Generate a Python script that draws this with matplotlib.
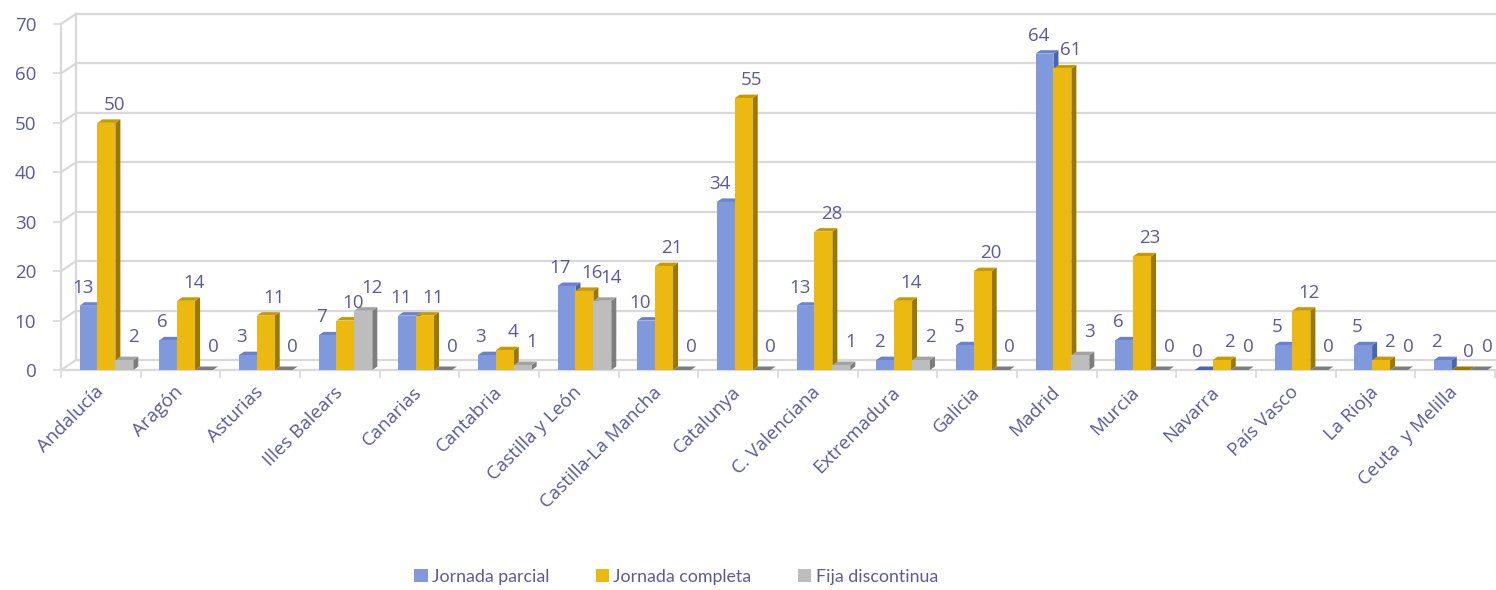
import matplotlib
matplotlib.use('Agg')
import matplotlib.pyplot as plt
from matplotlib.patches import Polygon, Patch
from matplotlib.font_manager import FontProperties
import numpy as np

categories = ['Andalucía', 'Aragón', 'Asturias', 'Illes Balears', 'Canarias', 'Cantabria',
              'Castilla y León', 'Castilla-La Mancha', 'Catalunya', 'C. Valenciana',
              'Extremadura', 'Galicia', 'Madrid', 'Murcia', 'Navarra', 'País Vasco',
              'La Rioja', 'Ceuta  y Melilla']
jornada_parcial = [13, 6, 3, 7, 11, 3, 17, 10, 34, 13, 2, 5, 64, 6, 0, 5, 5, 2]
jornada_completa = [50, 14, 11, 10, 11, 4, 16, 21, 55, 28, 14, 20, 61, 23, 2, 12, 2, 0]
fija_discontinua = [2, 0, 0, 12, 0, 1, 14, 0, 0, 1, 2, 0, 3, 0, 0, 0, 0, 0]
series_names = ['Jornada parcial', 'Jornada completa', 'Fija discontinua']
y_ticks = [0, 10, 20, 30, 40, 50, 60, 70]

W, H = 1496, 590
fig = plt.figure(figsize=(W / 100, H / 100), dpi=100)
plt.rcParams['font.family'] = ['Open Sans', 'DejaVu Sans']
TXT = '#5a5a9c'
GRID = '#d9d9d9'

ax_left_px, ax_right_px = 61, 1495
y0_px, ppu = 370, 4.943
ymax = 73
top_px = y0_px - ymax * ppu
ax = fig.add_axes([ax_left_px / W, (H - y0_px) / H,
                   (ax_right_px - ax_left_px) / W, (y0_px - top_px) / H])
n = len(categories)
ax.set_xlim(-0.5, n - 0.5)
ax.set_ylim(0, ymax)
pxx = (ax_right_px - ax_left_px) / n  # px per category

for s in ax.spines.values():
    s.set_visible(False)

# back wall grid (offset) + diagonals
gx, gy = 15 / pxx, 10 / ppu
for v in y_ticks:
    ax.plot([-0.5 + gx, n - 0.5], [v + gy, v + gy], color=GRID, lw=1.6, zorder=0, clip_on=False)
    ax.plot([-0.5, -0.5 + gx], [v, v + gy], color=GRID, lw=1.6, zorder=0, clip_on=False)
ax.plot([-0.5, n - 0.5], [0, 0], color=GRID, lw=1.6, zorder=0, clip_on=False)
ax.plot([-0.5, -0.5], [0, 70], color=GRID, lw=1.6, zorder=0, clip_on=False)
ax.plot([-0.5 + gx, -0.5 + gx], [gy, 70 + gy], color=GRID, lw=1.6, zorder=0, clip_on=False)

# bars with pseudo 3D
series = [jornada_parcial, jornada_completa, fija_discontinua]
offsets = [-0.155, 0.07, 0.295]
bw = 0.225
dx, dy = 5 / pxx, 3.5 / ppu
colors = [('#8099dd', '#4c63ad', '#6a82cc'),
          ('#ebb90f', '#9a7800', '#c89a00'),
          ('#bdbdbd', '#7d7d7d', '#a3a3a3')]
lab_off = [(-6, 18), (8, 18), (9, 23)]
xs = np.arange(n)
z = 2
for si, vals in enumerate(series):
    face, side, topc = colors[si]
    for i, v in enumerate(vals):
        xc = xs[i] + offsets[si]
        x0, x1 = xc - bw / 2, xc + bw / 2
        if v > 0:
            ax.add_patch(Polygon([(x1, 0), (x1 + dx, dy), (x1 + dx, v + dy), (x1, v)],
                                 closed=True, fc=side, ec='none', zorder=z))
            ax.add_patch(Polygon([(x0, v), (x0 + dx, v + dy), (x1 + dx, v + dy), (x1, v)],
                                 closed=True, fc=topc, ec='none', zorder=z))
            ax.bar(xc, v, width=bw, color=face, zorder=z, linewidth=0)
        else:
            ax.add_patch(Polygon([(x0, 0), (x0 + dx, dy), (x1 + dx, dy), (x1, 0)],
                                 closed=True, fc=side, ec='none', zorder=z))
        z += 0.01
        ox, oy = lab_off[si]
        ax.annotate(str(v), xy=(xc, v), xytext=(ox * 0.72, oy * 0.72), textcoords='offset points',
                    ha='center', va='center', fontsize=13.5, color=TXT, zorder=10,
                    annotation_clip=False)
    z += 1

# y ticks
ax.set_yticks(y_ticks)
ax.set_yticklabels([str(t) for t in y_ticks], fontsize=13.5, color=TXT)
ax.tick_params(axis='y', length=5.8, width=1.2, color=GRID, pad=12)

# x ticks
ax.set_xticks(xs)
ax.set_xticklabels(categories, rotation=45, ha='right', va='center', rotation_mode='anchor',
                   fontsize=13.5, color=TXT)
ax.tick_params(axis='x', which='major', length=0, pad=14)
ax.set_xticks(np.arange(-0.5, n, 1.0), minor=True)
ax.tick_params(axis='x', which='minor', length=6, width=1.2, color=GRID, direction='out')

# legend
handles = [Patch(facecolor=colors[i][0], edgecolor='none', label=series_names[i]) for i in range(3)]
fig.legend(handles=handles, loc='center', bbox_to_anchor=(676 / W, 1 - 577 / H), ncol=3,
           frameon=False, prop=FontProperties(family=['Lato', 'DejaVu Sans'], size=12.8),
           handlelength=0.75, handleheight=0.75, handletextpad=0.25,
           columnspacing=2.6, labelcolor=TXT)

fig.savefig('out.png', dpi=100)
